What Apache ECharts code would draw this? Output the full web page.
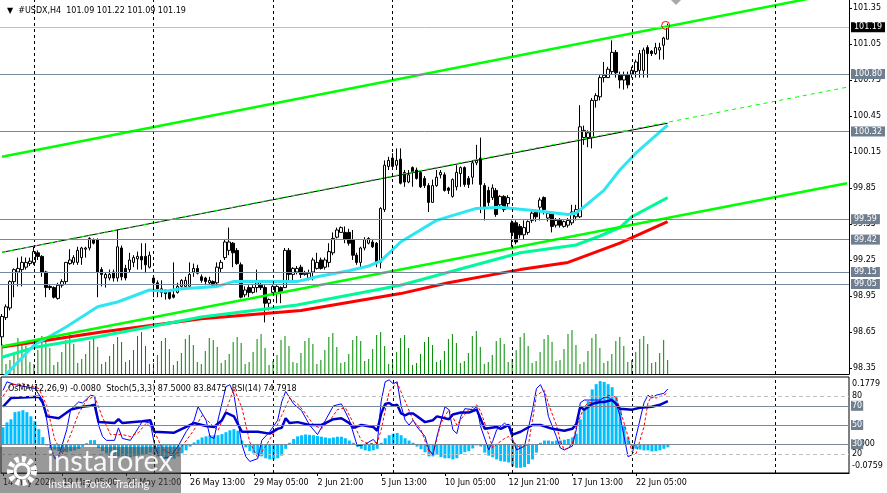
<!DOCTYPE html>
<html>
<head>
<meta charset="utf-8">
<script src="https://cdn.jsdelivr.net/npm/echarts@6.0.0/dist/echarts.min.js"></script>
<style>
html, body { margin: 0; padding: 0; background: #fff; }
#main { width: 887px; height: 493px; }
</style>
</head>
<body>
<div id="main"></div>
<script>
var FONT = 'DejaVu Sans';

// USDX H4 bars, 14 May 17:00 .. 23 Jun 13:00
var open = [
  98.61,98.77,98.85,99.07,99.15,99.17,99.19,99.22,99.23,99.31,
  99.28,99.15,99.03,99.02,98.93,99.04,99.07,99.22,99.23,99.23,
  99.27,99.34,99.35,99.42,99.42,99.17,99.10,99.10,99.15,99.10,
  99.35,99.18,99.17,99.23,99.26,99.28,99.28,99.19,99.10,99.06,
  98.98,99.00,98.98,98.96,98.98,99.03,99.03,99.03,99.15,99.18,
  99.11,99.10,99.06,99.07,99.06,99.18,99.27,99.33,99.39,99.33,
  99.21,98.96,99.02,98.98,99.02,99.04,99.02,98.89,98.98,98.98,
  99.02,99.02,99.33,99.13,99.15,99.19,99.13,99.10,99.15,99.18,
  99.25,99.19,99.23,99.31,99.44,99.48,99.48,99.48,99.42,99.29,
  99.23,99.35,99.39,99.40,99.39,99.23,99.67,100.03,100.10,100.04,
  100.09,99.98,99.90,100.02,100.00,99.98,99.93,99.87,99.73,99.87,
  99.96,99.96,99.85,99.78,99.86,99.97,100.02,99.93,99.94,100.06,
  100.10,99.87,99.83,99.77,99.83,99.71,99.78,99.72,99.56,99.56,
  99.53,99.46,99.48,99.58,99.65,99.69,99.77,99.60,99.64,99.54,
  99.58,99.53,99.54,99.56,99.61,99.61,100.27,100.27,100.27,100.58,
  100.61,100.77,100.77,100.82,100.98,100.79,100.75,100.79,100.80,100.82,
  100.83,100.83,101.02,100.99,100.97,101.00,101.04,101.09
];
var close = [
  98.78,98.86,99.07,99.17,99.18,99.23,99.23,99.24,99.32,99.28,
  99.15,99.02,99.02,98.94,99.04,99.07,99.23,99.25,99.27,99.33,
  99.35,99.35,99.43,99.39,99.15,99.13,99.13,99.13,99.10,99.36,
  99.11,99.10,99.25,99.27,99.28,99.25,99.21,99.29,99.06,99.01,
  99.01,98.97,98.93,98.94,99.03,99.08,99.08,99.13,99.18,99.14,
  99.08,99.07,99.08,99.04,99.19,99.23,99.40,99.40,99.31,99.22,
  98.94,99.00,98.98,99.02,99.06,99.02,98.89,98.92,99.03,99.03,
  98.98,99.33,99.13,99.18,99.18,99.13,99.14,99.14,99.25,99.23,
  99.18,99.25,99.32,99.43,99.50,99.52,99.42,99.39,99.29,99.23,
  99.35,99.42,99.43,99.36,99.23,99.68,100.04,100.08,100.03,100.08,
  99.89,99.90,99.96,99.98,99.93,99.86,99.87,99.73,99.87,99.94,
  99.98,99.83,99.83,99.92,99.98,100.02,99.88,99.88,100.06,100.08,
  99.88,99.68,99.73,99.85,99.63,99.78,99.67,99.77,99.48,99.40,
  99.46,99.52,99.57,99.64,99.61,99.75,99.67,99.64,99.53,99.58,
  99.54,99.57,99.58,99.65,99.67,100.36,100.33,100.31,100.58,100.62,
  100.77,100.79,100.84,100.98,100.81,100.75,100.79,100.71,100.83,100.90,
  100.97,101.00,100.97,100.97,101.02,101.02,101.10,101.19
];
var low = [
  98.54,98.75,98.83,98.94,99.03,99.03,99.17,99.20,99.21,99.25,
  99.11,98.94,99.00,98.93,98.92,99.02,99.05,99.21,99.21,99.21,
  99.21,99.27,99.33,99.38,98.94,99.03,99.02,99.08,99.07,99.07,
  99.08,99.08,99.15,99.19,99.17,99.17,99.14,99.18,98.94,98.94,
  98.94,98.92,98.92,98.93,98.97,99.02,99.02,99.02,99.11,99.13,
  99.06,99.04,99.04,99.02,99.02,99.15,99.25,99.29,99.19,99.21,
  98.93,98.94,98.94,98.97,98.98,99.00,98.73,98.83,98.96,98.89,
  98.89,99.02,99.06,99.08,99.13,99.10,99.12,99.08,99.08,99.17,
  99.17,99.17,99.19,99.29,99.43,99.48,99.39,99.37,99.25,99.21,
  99.18,99.33,99.38,99.35,99.19,99.18,99.65,100.00,100.00,100.00,
  99.88,99.86,99.89,99.86,99.92,99.85,99.85,99.65,99.73,99.86,
  99.93,99.82,99.80,99.77,99.83,99.86,99.86,99.85,99.88,100.04,
  99.64,99.58,99.70,99.75,99.61,99.69,99.65,99.69,99.36,99.38,
  99.43,99.42,99.46,99.56,99.57,99.58,99.63,99.57,99.48,99.52,
  99.52,99.52,99.52,99.54,99.58,99.60,100.21,100.19,100.18,100.52,
  100.58,100.73,100.77,100.80,100.77,100.68,100.67,100.68,100.77,100.77,
  100.77,100.77,100.77,100.95,100.96,100.92,100.92,101.09
];
var high = [
  98.80,98.88,99.08,99.18,99.27,99.28,99.27,99.27,99.36,99.33,
  99.29,99.16,99.04,99.03,99.06,99.09,99.23,99.34,99.29,99.36,
  99.36,99.36,99.44,99.43,99.43,99.19,99.15,99.17,99.17,99.50,
  99.37,99.21,99.31,99.29,99.32,99.39,99.39,99.32,99.11,99.08,
  99.08,99.00,98.98,99.23,99.06,99.09,99.11,99.23,99.22,99.21,
  99.13,99.11,99.11,99.08,99.23,99.25,99.42,99.52,99.40,99.35,
  99.23,99.03,99.04,99.04,99.17,99.06,99.04,98.93,99.04,99.04,
  99.03,99.35,99.35,99.19,99.20,99.21,99.16,99.17,99.27,99.31,
  99.27,99.27,99.39,99.48,99.52,99.53,99.53,99.51,99.50,99.31,
  99.36,99.44,99.44,99.42,99.40,99.69,100.08,100.11,100.14,100.18,
  100.18,100.00,100.00,100.03,100.02,100.00,99.95,99.89,99.92,100.00,
  100.00,99.98,99.86,99.93,100.04,100.03,100.03,99.95,100.08,100.21,
  100.27,99.89,99.86,99.88,99.85,99.79,99.79,99.79,99.58,99.58,
  99.55,99.58,99.58,99.67,99.67,99.77,99.78,99.65,99.65,99.60,
  99.60,99.58,99.60,99.71,99.71,100.54,100.37,100.33,100.60,100.64,
  100.79,100.90,100.86,101.08,101.00,100.82,100.82,100.82,100.86,100.92,
  101.00,101.02,101.04,101.00,101.06,101.06,101.11,101.22
];
var volume = [
  30,10,14,20,36,32, 28,12,10,24,38,36, 26,9,12,22,34,40, 30,11,15,20,33,38,
  27,10,12,18,30,37, 32,12,14,24,38,42, 28,10,11,19,33,36, 25,9,13,21,35,39,
  29,12,10,23,36,34, 27,11,14,20,32,37, 31,10,12,22,35,40, 26,9,13,19,34,38,
  28,12,11,21,33,36, 30,10,14,24,37,41, 27,11,12,20,34,38, 33,13,15,25,39,42,
  28,10,12,22,36,39, 26,9,11,20,32,37, 29,12,14,23,35,40, 31,11,13,21,38,43,
  27,10,12,19,33,36, 30,12,15,24,37,41, 28,11,13,22,35,39, 32,13,14,25,40,44,
  29,10,12,23,36,40, 26,11,13,20,33,37, 28,12,14,22,35,38, 30,11,12,21,34,14
];
var osma = [
  0.045,0.058,0.066,0.085,0.087,0.090,0.085,0.074,0.061,0.040,
  0.019,-0.003,-0.010,-0.014,-0.018,-0.021,-0.021,-0.018,-0.016,-0.012,
  -0.007,0.003,0.011,0.011,-0.010,-0.018,-0.024,-0.030,-0.034,-0.032,
  -0.032,-0.034,-0.034,-0.032,-0.030,-0.028,-0.026,-0.022,-0.026,-0.032,
  -0.036,-0.038,-0.040,-0.038,-0.032,-0.024,-0.016,-0.006,0.005,0.012,
  0.018,0.021,0.024,0.024,0.024,0.027,0.032,0.037,0.040,0.036,
  0.010,-0.008,-0.018,-0.024,-0.028,-0.032,-0.037,-0.040,-0.040,-0.037,
  -0.030,-0.012,0.004,0.014,0.021,0.024,0.026,0.025,0.024,0.022,
  0.020,0.018,0.016,0.018,0.020,0.020,0.016,0.010,0.004,-0.006,
  -0.012,-0.016,-0.018,-0.016,-0.012,0.004,0.016,0.024,0.028,0.030,
  0.024,0.016,0.010,0.004,-0.006,-0.013,-0.021,-0.032,-0.032,-0.026,
  -0.034,-0.037,-0.037,-0.040,-0.037,-0.026,-0.021,-0.018,-0.011,-0.003,
  -0.006,-0.022,-0.030,-0.034,-0.040,-0.044,-0.046,-0.048,-0.058,-0.062,
  -0.062,-0.060,-0.052,-0.040,-0.022,0.004,0.010,0.010,0.008,0.010,
  0.010,0.012,0.014,0.018,0.028,0.066,0.093,0.114,0.145,0.159,
  0.167,0.165,0.159,0.151,0.127,0.093,0.048,0.019,-0.005,-0.012,
  -0.014,-0.016,-0.016,-0.019,-0.018,-0.016,-0.012,-0.008
];
// [bar, value] points
var stochK = [[0,86],[1,95],[3,92],[8,88],[10,76],[11,55],[12,27],[13,15],[14,17],[16,45],[17,66],[19,74],[20,73],[22,81],[23,80],[24,50],[25,38],[26,34],[28,34],[29,47],[30,36],[32,34],[34,47],[35,54],[37,52],[38,31],[39,18],[40,15],[42,17],[44,28],[46,43],[48,55],[49,69],[51,55],[52,38],[53,36],[54,55],[56,90],[57,92],[58,82],[59,55],[60,30],[61,17],[62,12],[64,15],[65,34],[67,43],[69,55],[70,74],[71,85],[73,72],[75,65],[77,50],[79,40],[81,55],[83,70],[85,72],[87,55],[89,28],[91,30],[93,35],[94,30],[95,75],[96,95],[97,97],[98,93],[99,95],[100,70],[101,55],[102,50],[103,55],[104,48],[106,38],[107,24],[108,19],[109,38],[111,69],[112,66],[113,45],[114,41],[115,59],[116,67],[118,66],[119,69],[120,48],[122,24],[123,33],[124,45],[126,52],[127,48],[128,35],[129,24],[131,28],[133,66],[134,88],[135,92],[136,83],[137,59],[139,38],[140,26],[141,24],[143,28],[144,45],[145,73],[146,76],[148,76],[150,76],[151,79],[152,79],[154,73],[155,59],[156,38],[157,17],[158,19],[159,38],[161,73],[162,81],[163,78],[164,81],[166,83],[167,87.5]];
var stochD = [[0,80],[2,92],[5,93],[9,88],[11,70],[13,35],[15,20],[17,40],[19,62],[21,76],[23,80],[25,58],[27,40],[30,40],[32,38],[34,42],[36,52],[38,44],[40,25],[43,18],[45,28],[48,45],[50,60],[52,52],[54,44],[56,65],[58,88],[60,68],[62,32],[64,16],[66,28],[68,42],[70,60],[72,78],[74,72],[76,62],[78,50],[80,46],[82,54],[84,66],[86,68],[88,52],[90,34],[92,30],[94,32],[95,45],[96,65],[97,85],[99,94],[101,75],[103,55],[105,45],[107,22],[108,20],[110,52],[112,66],[114,50],[115,56],[117,66],[119,71],[120,64],[122,40],[123,26],[124,30],[126,36],[127,38],[128,33],[130,26],[132,30],[133,55],[134,81],[136,86],[137,72],[139,50],[140,33],[141,24],[143,30],[144,48],[146,69],[147,73],[149,74],[152,81],[154,79],[155,66],[157,38],[158,22],[159,20],[161,48],[162,73],[163,81],[164,78],[166,81],[167,83.85]];
var rsi = [[0,69],[2,78],[9,79.5],[10,73],[11,59],[14,57],[17,66],[20,69],[22,70],[23,71],[24,53],[28,52],[29,56],[30,52],[35,54],[37,55],[38,43],[43,42],[46,48],[48,52],[51,49],[53,48],[55,55],[56,63],[58,59],[60,43],[64,43],[67,41],[69,46],[70,47],[71,57],[72,52],[74,53],[77,50],[80,50],[83,56],[85,57],[87,52],[88,47],[90,50],[93,48],[94,44],[95,62],[96,72],[97,73],[98,70],[99,71],[100,62],[101,60],[102,62],[103,62],[104,59],[106,53],[108,55],[109,59],[112,56],[113,61],[115,63],[117,63],[119,66],[120,56],[121,46],[124,48],[125,46],[127,50],[128,40],[130,43],[133,50],[135,50],[138,46],[141,44],[143,46],[144,51],[145,69],[146,66],[148,72],[150,74],[151,74],[153,76],[154,72],[155,67],[158,66],[160,68],[163,69],[165,71],[167,74.79]];
// moving averages, [bar, price]
var maFast = [[0,98.26],[8,98.54],[16,98.69],[24,98.86],[29,98.90],[37,99.0],[41,98.99],[45,99.01],[54,99.03],[58,99.07],[66,99.07],[74,99.07],[79,99.11],[87,99.16],[92,99.20],[95,99.24],[100,99.40],[109,99.58],[119,99.68],[125,99.69],[128,99.68],[134,99.66],[142,99.63],[144,99.64],[147,99.72],[151,99.83],[155,100.0],[159,100.14],[167,100.375]];
var maMid = [[0,98.44],[8,98.52],[24,98.61],[50,98.775],[74,98.875],[100,99.04],[130,99.31],[144,99.375],[150,99.45],[155,99.52],[158,99.61],[167,99.77]];
var maSlow = [[0,98.525],[25,98.65],[50,98.76],[75,98.83],[100,98.97],[112,99.06],[130,99.17],[142,99.23],[155,99.39],[167,99.57]];
// channel
var chanUpper = [[0,100.11],[212,101.49]];
var chanMid = [[0,99.314],[212,100.69]];
var chanMidSolid = [[0,99.314],[167,100.39]];
var chanLower = [[0,98.53],[212,99.89]];

var priceTicks = [98.35,98.65,98.95,99.25,99.55,99.85,100.15,100.45,100.75,101.05,101.35];
var hLevels = [100.80,100.32,99.59,99.42,99.15,99.05];
var lastPrice = 101.19;
var timeTicks = [0,15,31,47,63,79,95,111,127,143,159];
var timeTexts = ['14 May 2020','19 May 05:00','21 May 21:00','26 May 13:00','29 May 05:00','2 Jun 21:00','5 Jun 13:00','10 Jun 05:00','12 Jun 21:00','17 Jun 13:00','22 Jun 05:00'];
var weekStarts = [8,38,68,98,128,158,194];

// bars plus the empty shift space on the right
var N = 213;
var cats = [];
for (var c = 0; c < N; c++) cats.push(String(c));
var labelAt = {};
timeTicks.forEach(function (t, k) { labelAt[t] = timeTexts[k]; });

var candles = [];
for (var i = 0; i < open.length; i++) {
  candles.push([open[i], close[i], low[i], high[i]]);
}

function tag(txt, bg, pad) {
  return {
    show: true, position: 'end', distance: 2, formatter: txt,
    color: '#fff', backgroundColor: bg, padding: pad || [1, 3, 0, 3],
    fontSize: 8, lineHeight: 9, fontFamily: FONT
  };
}
var dashV = { color: '#000', type: [3, 3], width: 1 };

var mainMarks = weekStarts.map(function (w) {
  return { xAxis: w, lineStyle: dashV, label: { show: false } };
});
hLevels.forEach(function (v) {
  mainMarks.push({ yAxis: v, lineStyle: { color: '#778899', type: 'solid', width: 1 }, label: tag(v.toFixed(2), '#6f7f8f') });
});
mainMarks.push({ yAxis: lastPrice, lineStyle: { color: '#c0c0c0', type: 'solid', width: 1 }, label: tag(lastPrice.toFixed(2), '#000') });

var lowMarks = weekStarts.map(function (w) {
  return { xAxis: w, lineStyle: dashV, label: { show: false } };
});
[80, 20].forEach(function (v) {
  lowMarks.push({ yAxis: v, lineStyle: { color: '#c0c0c0', type: [4, 3], width: 1 }, label: { show: false } });
});
[70, 50, 30].forEach(function (v) {
  lowMarks.push({ yAxis: v, lineStyle: { color: '#778899', type: 'solid', width: 1 }, label: tag(String(v), '#6f7f8f', [1, 1, 0, 1]) });
});

function lineS(data, color, width, xi, yi, extra) {
  var s = {
    type: 'line', xAxisIndex: xi, yAxisIndex: yi, data: data,
    showSymbol: false, symbol: 'none', silent: true, z: 3,
    lineStyle: { color: color, width: width }
  };
  for (var k in extra) s[k] = extra[k];
  return s;
}

var tickFn = function (idx) { return labelAt[idx] !== undefined; };
var txt = { fontSize: 8, fontWeight: 'normal', color: '#000', fontFamily: FONT };

var chart = echarts.init(document.getElementById('main'));
var option = {
  animation: false,
  backgroundColor: '#fff',
  textStyle: { fontFamily: FONT },
  title: [
    { text: '\u25BC  #USDX,H4  101.09 101.22 101.09 101.19', left: 2, top: 2, textStyle: txt },
    { text: 'OsMA(12,26,9) -0.0080  Stoch(5,3,3) 87.5000 83.8475  RSI(14) 74.7918', left: 3, top: 380, textStyle: txt }
  ],
  grid: [
    { left: 0, right: 38, top: 0, height: 374 },
    { left: 0, right: 38, top: 377, height: 96, show: true, borderColor: '#000', borderWidth: 1 }
  ],
  xAxis: [
    { type: 'category', gridIndex: 0, data: cats,
      axisLine: { show: true, lineStyle: { color: '#000', width: 1 } },
      axisTick: { show: false }, axisLabel: { show: false }, splitLine: { show: false } },
    { type: 'category', gridIndex: 1, data: cats,
      axisLine: { show: true, lineStyle: { color: '#000', width: 1 } },
      axisTick: { show: true, alignWithLabel: true, interval: tickFn, length: 3, lineStyle: { color: '#000' } },
      axisLabel: { interval: tickFn, formatter: function (v) { return labelAt[+v] || ''; },
        align: 'left', margin: 6, color: '#000', fontSize: 8, fontFamily: FONT },
      splitLine: { show: false } }
  ],
  yAxis: [
    { type: 'value', gridIndex: 0, position: 'right', min: 98.30, max: 101.4167,
      axisLine: { show: true, lineStyle: { color: '#000', width: 1 } },
      axisTick: { show: true, length: 3, customValues: priceTicks, lineStyle: { color: '#000' } },
      axisLabel: { customValues: priceTicks, formatter: function (v) { return v.toFixed(2); },
        margin: 4, color: '#000', fontSize: 8, fontFamily: FONT },
      splitLine: { show: false } },
    { type: 'value', gridIndex: 0, min: 0, max: 374, show: false },
    { type: 'value', gridIndex: 1, position: 'right', min: 0, max: 100,
      axisLine: { show: false }, axisTick: { show: false },
      axisLabel: { customValues: [20, 80], margin: 3, color: '#000', fontSize: 8, fontFamily: FONT },
      splitLine: { show: false } },
    { type: 'value', gridIndex: 1, position: 'right', min: -0.0759, max: 0.1779,
      axisLine: { show: false }, axisTick: { show: false },
      axisLabel: { customValues: [-0.0574, 0, 0.1594], margin: 3, color: '#000', fontSize: 8, fontFamily: FONT,
        formatter: function (v) { return v > 0.1 ? '0.1779' : (v < -0.01 ? '-0.0759' : '0.000'); } },
      splitLine: { show: false } }
  ],
  series: [
    { type: 'bar', xAxisIndex: 0, yAxisIndex: 1, data: volume, barWidth: 1, silent: true, z: 1,
      itemStyle: { color: '#008a00' } },
    { type: 'candlestick', xAxisIndex: 0, yAxisIndex: 0, data: candles, barWidth: 3, silent: true, z: 2,
      itemStyle: { color: '#fff', color0: '#000', borderColor: '#000', borderColor0: '#000', borderWidth: 1 },
      markPoint: { silent: true, symbol: 'circle', symbolSize: 8, label: { show: false },
        itemStyle: { color: 'rgba(0,0,0,0)', borderColor: '#ff0000', borderWidth: 1 },
        data: [{ coord: [167, 101.205], symbolOffset: [-2, 0] }] } },
    lineS(maSlow, '#ff0000', 3, 0, 0),
    lineS(maMid, '#00fa9a', 3, 0, 0),
    lineS(maFast, '#2ee6f2', 3, 0, 0),
    lineS(chanUpper, '#00ff00', 2.5, 0, 0, {
      markLine: { silent: true, symbol: ['none', 'none'], animation: false, data: mainMarks }
    }),
    lineS(chanLower, '#00ff00', 2.5, 0, 0),
    lineS(chanMidSolid, '#000', 1, 0, 0),
    lineS(chanMid, '#00ff00', 1, 0, 0, { lineStyle: { color: '#00ff00', width: 1, type: [4, 4] } }),
    { type: 'bar', xAxisIndex: 1, yAxisIndex: 3, data: osma, barWidth: 3, silent: true, z: 1,
      itemStyle: { color: '#00bfff' } },
    lineS(stochK, '#0000ff', 1, 1, 2, {
      markLine: { silent: true, symbol: ['none', 'none'], animation: false, data: lowMarks }
    }),
    lineS(stochD, '#ff0000', 1, 1, 2, { lineStyle: { color: '#ff0000', width: 1, type: [3, 2] } }),
    lineS(rsi, '#0000cd', 2.5, 1, 2)
  ],
  graphic: [
    { type: 'polygon', shape: { points: [[671, 0], [681, 0], [676, 5]] }, style: { fill: '#a9a9a9' }, z: 50 },
    { type: 'rect', shape: { x: 0, y: 447, width: 181, height: 46 }, style: { fill: 'rgba(70,70,70,0.55)' }, z: 100 },
    { type: 'circle', shape: { cx: 22, cy: 471, r: 12 }, style: { fill: 'none', stroke: '#fff', lineWidth: 6, lineDash: [4, 3] }, z: 101 },
    { type: 'circle', shape: { cx: 22, cy: 471, r: 7 }, style: { fill: 'none', stroke: '#fff', lineWidth: 3 }, z: 101 },
    { type: 'text', style: { text: 'instaforex', x: 47, y: 447, fill: 'rgba(255,255,255,0.92)', font: '29px Lato', verticalAlign: 'top' }, z: 101 },
    { type: 'text', style: { text: 'Instant Forex Trading', x: 48, y: 479, fill: 'rgba(255,255,255,0.9)', font: '11px Lato', verticalAlign: 'top' }, z: 101 }
  ]
};
chart.setOption(option);
</script>
</body>
</html>
